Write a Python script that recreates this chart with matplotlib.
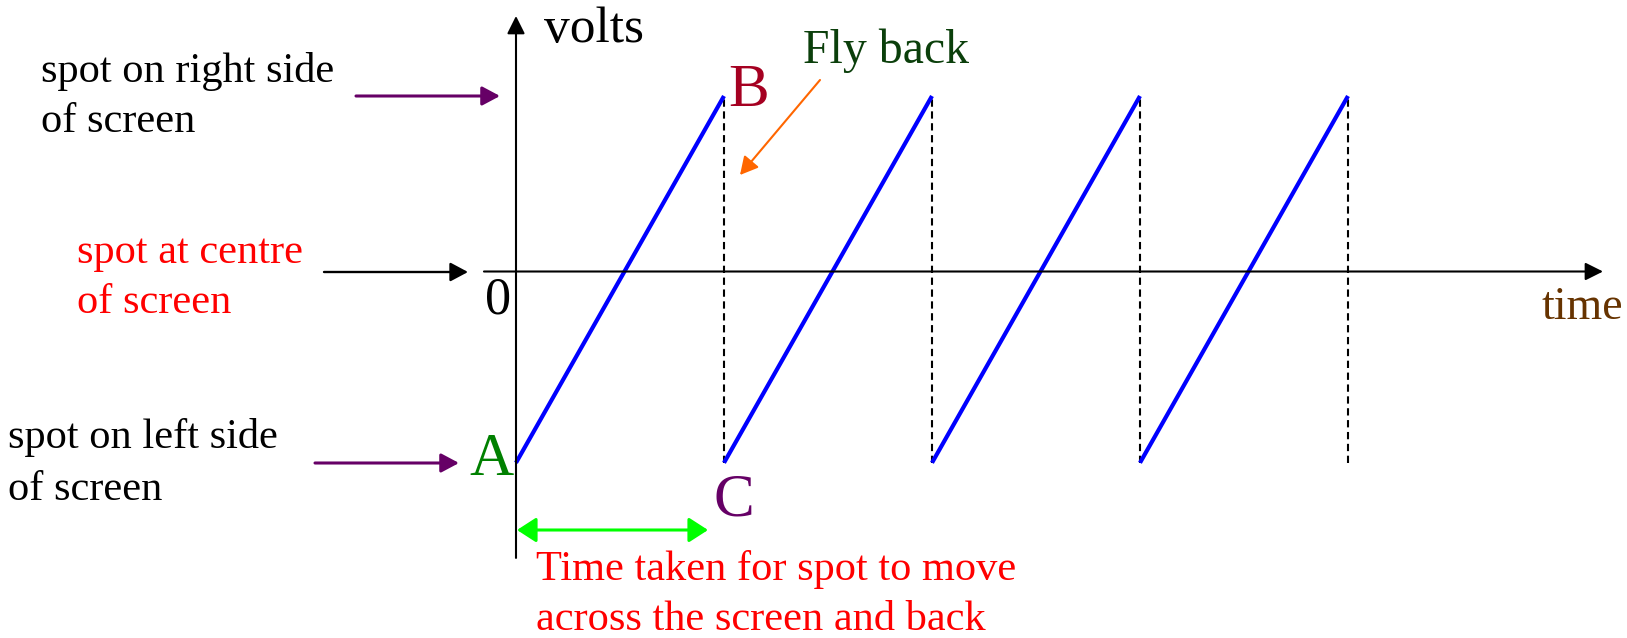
import matplotlib
matplotlib.use("Agg")
import matplotlib.pyplot as plt

# sawtooth timebase: each sweep rises from v_min to v_max, then flies back
ramp_start = [0, 1, 2, 3]
ramp_end = [1, 2, 3, 4]
flyback_times = [1, 2, 3, 4]
v_min = -1.09
v_max = 1.0

# axis extents (time units / volt units)
time_axis = (-0.154, 5.226)
volt_axis = (-1.632, 1.456)

W, H = 1627, 638
plt.rcParams['font.family'] = ['Liberation Serif', 'DejaVu Serif']


def fpx(x, y):
    # pixel position (from top-left) -> figure fraction
    return x / W, 1 - y / H


def label(fig, x, y, s, size, color='black'):
    fx, fy = fpx(x, y)
    fig.text(fx, fy, s, fontsize=size, color=color, ha='left', va='baseline')


def arrow(ax, start, end, color, lw, style='-|>,head_length=0.6,head_width=0.32', scale=18):
    ax.annotate('', xy=fpx(*end), xytext=fpx(*start), xycoords='figure fraction',
                textcoords='figure fraction',
                arrowprops=dict(arrowstyle=style, color=color, lw=lw, mutation_scale=scale,
                                shrinkA=0, shrinkB=0))


fig = plt.figure(figsize=(W / 100, H / 100), dpi=100)
ax = fig.add_axes([0, 0, 1, 1])
ax.axis('off')
# 208 px per time unit, 175.5 px per volt unit, origin at (516, 271.5)
ax.set_xlim(-516 / 208, (W - 516) / 208)
ax.set_ylim(-(H - 271.5) / 175.5, 271.5 / 175.5)

# axes with arrow heads
head = dict(arrowstyle='-|>,head_length=0.6,head_width=0.3', color='black', lw=1.5,
            mutation_scale=18, shrinkA=0, shrinkB=0)
ax.annotate('', xy=(0, volt_axis[1]), xytext=(0, volt_axis[0]), arrowprops=head)
ax.annotate('', xy=(time_axis[1], 0), xytext=(time_axis[0], 0), arrowprops=head)

# fly back (dashed) and sweep ramps
ax.vlines(flyback_times, v_min, v_max, colors='black', linestyles=(0, (3.5, 2.2)), lw=1.5)
for s, e in zip(ramp_start, ramp_end):
    ax.plot([s, e], [v_min, v_max], color='#0000FF', lw=3.0, solid_capstyle='butt')

# side arrows
arrow(ax, (356, 96), (500, 96), '#660066', 2.2)
arrow(ax, (324, 272), (468, 272), 'black', 1.7)
arrow(ax, (315, 463), (459, 463), '#660066', 2.2)
# orange fly-back pointer
arrow(ax, (820, 80), (740, 175), '#FF6600', 1.5)
# green period arrow
arrow(ax, (517, 530), (708, 530), '#00FF00', 2.2,
      style='<|-|>,head_length=0.65,head_width=0.42', scale=18)

# labels
label(fig, 41, 82, 'spot on right side', 30.5)
label(fig, 41, 132, 'of screen', 30.5)
label(fig, 77, 263, 'spot at centre', 30.5, '#FF0000')
label(fig, 77, 313, 'of screen', 30.5, '#FF0000')
label(fig, 8, 448, 'spot on left side', 30.5)
label(fig, 8, 500, 'of screen', 30.5)
label(fig, 536, 580, 'Time taken for spot to move', 30.5, '#FF0000')
label(fig, 536, 630, 'across the screen and back', 30.5, '#FF0000')
label(fig, 544, 42, 'volts', 37)
label(fig, 803, 63, 'Fly back', 34.4, '#0B3F0B')
label(fig, 1541, 319, 'time', 33, '#663300')
label(fig, 485, 313, '0', 37.5)
label(fig, 469, 475, 'A', 44, '#008000')
label(fig, 728, 106, 'B', 44, '#A50021')
label(fig, 713, 515, 'C', 44, '#660066')

fig.savefig('out.png', dpi=100)
